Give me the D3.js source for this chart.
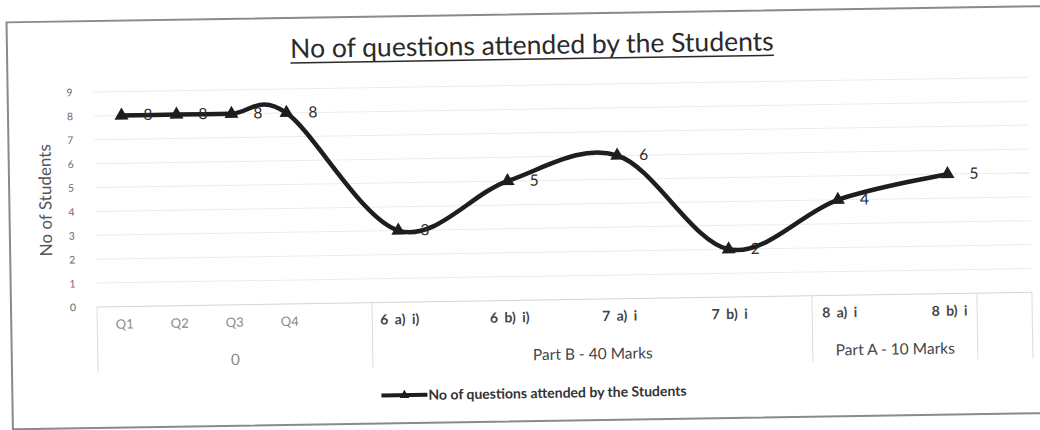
<!DOCTYPE html>
<html>
<head>
<meta charset="utf-8">
<script src="https://cdn.jsdelivr.net/npm/d3@7"></script>
<style>
	body { margin: 0; background: #ffffff; }
	svg { display: block; }
</style>
</head>
<body>
<div id="chart"></div>
<script>
// data (blank slots are empty rows in the sheet)
var categories = ["Q1", "Q2", "Q3", "Q4", "", "6 a) i)", "", "6 b) i)", "", "7 a) i", "", "7 b) i", "", "8 a) i", "", "8 b) i", ""];
var values = [8, 8, 8, 8, null, 3, null, 5, null, 6, null, 2, null, 4, null, 5, null];
var groupNames = ["0", "Part B - 40 Marks", "Part A - 10 Marks", ""];
var groupSizes = [5, 8, 3, 1];
var yTicks = [0, 1, 2, 3, 4, 5, 6, 7, 8, 9];
var chartTitle = "No of questions attended by the Students";
var yTitle = "No of Students";

var WIDTH = 1040,
	HEIGHT = 430,
	MARGINS = { top: 92, bottom: 123, left: 97, right: 8 };

var FONT = "Lato, 'Open Sans', sans-serif";

var svg = d3.select("#chart").append("svg")
	.attr("width", WIDTH)
	.attr("height", HEIGHT);

// the photo is slightly tilted, so the whole chart is turned a little
var g = svg.append("g")
	.attr("transform", "rotate(-0.9 " + MARGINS.left + " " + (HEIGHT - MARGINS.bottom) + ")");

// chart border
g.append("rect")
	.attr("x", 11)
	.attr("y", 21)
	.attr("width", 1040)
	.attr("height", 407)
	.attr("fill", "#ffffff")
	.attr("stroke", "#8a8a8a")
	.attr("stroke-width", 2);

// scales
var xScale = d3.scaleBand()
	.domain(d3.range(categories.length))
	.range([MARGINS.left, WIDTH - MARGINS.right]);
var yScale = d3.scaleLinear()
	.domain([0, 9])
	.range([HEIGHT - MARGINS.bottom, MARGINS.top]);

function cx(i) { return xScale(i) + xScale.bandwidth() / 2; }

// gridlines
g.append("g")
	.selectAll("line")
	.data(yTicks)
	.enter().append("line")
	.attr("x1", MARGINS.left)
	.attr("x2", WIDTH - MARGINS.right)
	.attr("y1", function(d) { return yScale(d); })
	.attr("y2", function(d) { return yScale(d); })
	.attr("stroke", function(d) { return d == 0 ? "#d4d4d4" : "#ececec"; })
	.attr("stroke-width", 1);

// y axis labels
var yAxis = g.append("g")
	.attr("transform", "translate(" + (MARGINS.left - 21) + ",0)")
	.call(d3.axisLeft(yScale).tickValues(yTicks).tickSize(0).tickPadding(0));
yAxis.select(".domain").remove();
yAxis.selectAll("text")
	.style("font", "10.5px " + FONT)
	.attr("fill", "#6a6a6a");

g.append("text")
	.attr("transform", "translate(53," + (yScale(4.5)) + ") rotate(-90)")
	.style("text-anchor", "middle")
	.style("font", "17px " + FONT)
	.attr("fill", "#555")
	.text(yTitle);

// category labels (first level)
g.append("g")
	.selectAll("text")
	.data(categories)
	.enter().append("text")
	.attr("x", function(d, i) { return cx(i); })
	.attr("y", HEIGHT - MARGINS.bottom + 22)
	.style("text-anchor", "middle")
	.style("font", function(d, i) { return i < 4 ? "13px " + FONT : "bold 14px " + FONT; })
	.style("word-spacing", "3px")
	.attr("fill", function(d, i) { return i < 4 ? "#8a8a8a" : "#444"; })
	.text(function(d) { return d; });

// group labels (second level) and dividers
var starts = [0];
groupSizes.forEach(function(s, i) { starts.push(starts[i] + s); });

g.append("g")
	.selectAll("line")
	.data(starts)
	.enter().append("line")
	.attr("x1", function(d) { return d < categories.length ? xScale(d) : WIDTH - MARGINS.right; })
	.attr("x2", function(d) { return d < categories.length ? xScale(d) : WIDTH - MARGINS.right; })
	.attr("y1", HEIGHT - MARGINS.bottom)
	.attr("y2", HEIGHT - MARGINS.bottom + 66)
	.attr("stroke", "#dcdcdc")
	.attr("stroke-width", 1);

g.append("g")
	.selectAll("text")
	.data(groupNames)
	.enter().append("text")
	.attr("x", function(d, i) {
		var x0 = xScale(starts[i]);
		var x1 = xScale(starts[i] + groupSizes[i] - 1) + xScale.bandwidth();
		return (x0 + x1) / 2;
	})
	.attr("y", HEIGHT - MARGINS.bottom + 60)
	.style("text-anchor", "middle")
	.style("font", "15.5px " + FONT)
	.attr("fill", function(d, i) { return i == 0 ? "#8a8a8a" : "#444"; })
	.text(function(d) { return d; });

// line (gaps in the data are bridged)
var points = values.map(function(v, i) { return { i: i, v: v }; })
	.filter(function(d) { return d.v != null; });

var lineGen = d3.line()
	.x(function(d) { return cx(d.i); })
	.y(function(d) { return yScale(d.v); })
	.curve(d3.curveCardinal.tension(0));

g.append("path")
	.datum(points)
	.attr("d", lineGen)
	.attr("fill", "none")
	.attr("stroke", "#1e1e1e")
	.attr("stroke-width", 4.5)
	.attr("stroke-linejoin", "round");

var triangle = d3.symbol().type(d3.symbolTriangle).size(85);

g.append("g")
	.selectAll("path")
	.data(points)
	.enter().append("path")
	.attr("transform", function(d) { return "translate(" + cx(d.i) + "," + yScale(d.v) + ")"; })
	.attr("d", triangle)
	.attr("fill", "#1e1e1e");

// data labels
g.append("g")
	.selectAll("text")
	.data(points)
	.enter().append("text")
	.attr("x", function(d) { return cx(d.i) + 22; })
	.attr("y", function(d) { return yScale(d.v) + 5; })
	.style("font", "15.5px " + FONT)
	.attr("fill", "#2a2a2a")
	.text(function(d) { return d.v; });

// title, underlined
var title = g.append("text")
	.attr("x", 536)
	.attr("y", 61)
	.style("text-anchor", "middle")
	.style("font", "26.5px " + FONT)
	.attr("fill", "#2a2a2a")
	.text(chartTitle);
var tw = title.node().getComputedTextLength();
g.append("line")
	.attr("x1", 536 - tw / 2)
	.attr("x2", 536 + tw / 2)
	.attr("y1", 66)
	.attr("y2", 66)
	.attr("stroke", "#2a2a2a")
	.attr("stroke-width", 1.5);

// legend
var legend = g.append("g")
	.attr("transform", "translate(380,400)");
legend.append("line")
	.attr("x1", 0)
	.attr("x2", 46)
	.attr("stroke", "#1e1e1e")
	.attr("stroke-width", 4);
legend.append("path")
	.attr("transform", "translate(23,0)")
	.attr("d", d3.symbol().type(d3.symbolTriangle).size(40))
	.attr("fill", "#1e1e1e");
legend.append("text")
	.attr("x", 47)
	.attr("y", 5)
	.style("font", "bold 14px " + FONT)
	.attr("fill", "#333")
	.text(chartTitle);
</script>
</body>
</html>
